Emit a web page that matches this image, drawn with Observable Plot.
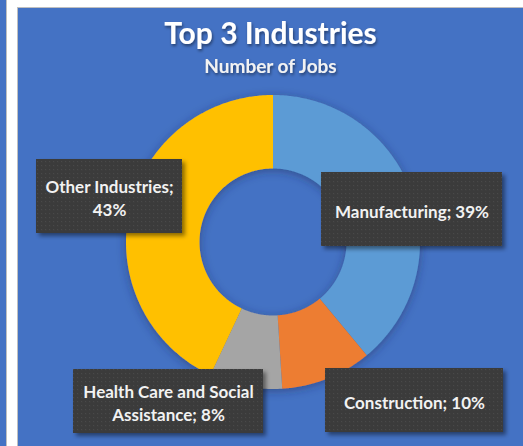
<!DOCTYPE html>
<html><head><meta charset="utf-8">
<script src="https://cdn.jsdelivr.net/npm/d3@7"></script>
<script src="https://cdn.jsdelivr.net/npm/@observablehq/plot@0.6"></script>
<style>
html,body{margin:0;padding:0;background:#fff;}
#wrap{position:relative;width:523px;height:446px;overflow:hidden;background:#fff;font-family:Lato,"Open Sans",sans-serif;}
#strip{position:absolute;left:0;top:0;width:6px;height:446px;background:#4472c4;border-right:1px solid #bfbfbf;}
#panel{position:absolute;left:17px;top:7px;width:520px;height:450px;background:#4472c4;border-left:1px solid #bfbfbf;border-top:1px solid #bfbfbf;}
#chart{position:absolute;left:0;top:0;}
</style></head>
<body><div id="wrap"><div id="strip"></div><div id="panel"></div><div id="chart"></div></div>
<script>
// ---- data ----
const categories = ["Manufacturing", "Construction", "Health Care and Social Assistance", "Other Industries"];
const shares = [39, 10, 8, 43];
const sliceColors = ["#5b9bd5", "#ed7d31", "#a5a5a5", "#ffc000"];
const labelTexts = ["Manufacturing; 39%", "Construction; 10%", "Health Care and Social\nAssistance; 8%", "Other Industries;\n43%"];
const titleText = "Top 3 Industries";
const subtitleText = "Number of Jobs";

// ---- layout (pixels) ----
const W = 523, H = 446;
const cx = 273, cy = 242, R = 147, r = 73.5;
const boxes = [
  {x1: 321, x2: 502, y1: 172, y2: 246},
  {x1: 325, x2: 503, y1: 368, y2: 432},
  {x1: 73,  x2: 263, y1: 369, y2: 433},
  {x1: 36,  x2: 182, y1: 159, y2: 233}
];

const pie = d3.pie().sort(null).value(d => d)(shares);
const pts = [];
pie.forEach((p, i) => {
  const n = Math.max(2, Math.ceil((p.endAngle - p.startAngle) / 0.01));
  for (let k = 0; k <= n; k++) {
    const a = p.startAngle + (p.endAngle - p.startAngle) * k / n;
    pts.push({
      name: categories[i],
      xo: cx + R * Math.sin(a), yo: cy - R * Math.cos(a),
      xi: cx + r * Math.sin(a), yi: cy - r * Math.cos(a)
    });
  }
});
const labels = categories.map((c, i) => ({
  name: c, text: labelTexts[i], ...boxes[i],
  tx: (boxes[i].x1 + boxes[i].x2) / 2, ty: (boxes[i].y1 + boxes[i].y2) / 2 + 1
}));

const svg = Plot.plot({
  width: W, height: H, margin: 0,
  style: {background: "transparent", overflow: "visible"},
  x: {domain: [0, W], range: [0, W], axis: null},
  y: {domain: [0, H], range: [0, H], axis: null},
  color: {domain: categories, range: sliceColors},
  marks: [
    Plot.area(pts, {x1: "xi", y1: "yi", x2: "xo", y2: "yo", z: "name", fill: "name"}),
    Plot.rect(labels, {x1: "x1", x2: "x2", y1: "y1", y2: "y2", fill: "#3d3d3d"}),
    Plot.text(labels, {x: "tx", y: "ty", text: "text", fill: "#f2f2f2", fontWeight: "bold", fontSize: 17, lineHeight: 1.35, fontFamily: "Lato, sans-serif"}),
    Plot.text([titleText], {x: 270, y: 34, text: d => d, fill: "#fff", fontWeight: "bold", fontSize: 30, fontFamily: "Lato, sans-serif"}),
    Plot.text([subtitleText], {x: 270, y: 66, text: d => d, fill: "#f2f2f2", fontWeight: "bold", fontSize: 19, fontFamily: "Lato, sans-serif"})
  ]
});

const s = d3.select(svg);
const defs = s.insert("defs", ":first-child");
defs.append("filter").attr("id", "dshadow").attr("x", "-20%").attr("y", "-20%").attr("width", "140%").attr("height", "140%")
  .append("feDropShadow").attr("dx", 0).attr("dy", 2).attr("stdDeviation", 5).attr("flood-color", "#1a2a55").attr("flood-opacity", 0.5);
defs.append("filter").attr("id", "bshadow").attr("x", "-10%").attr("y", "-10%").attr("width", "130%").attr("height", "140%")
  .append("feDropShadow").attr("dx", 3).attr("dy", 3).attr("stdDeviation", 2).attr("flood-color", "#000").attr("flood-opacity", 0.45);
defs.append("filter").attr("id", "tshadow").attr("x", "-10%").attr("y", "-30%").attr("width", "130%").attr("height", "160%")
  .append("feDropShadow").attr("dx", 1).attr("dy", 2).attr("stdDeviation", 1.5).attr("flood-color", "#000").attr("flood-opacity", 0.45);
const pat = defs.append("pattern").attr("id", "dots").attr("width", 4).attr("height", 4).attr("patternUnits", "userSpaceOnUse");
pat.append("rect").attr("width", 4).attr("height", 4).attr("fill", "#3b3b3b");
pat.append("rect").attr("x", 1).attr("y", 1).attr("width", 1.2).attr("height", 1.2).attr("fill", "#4a4a4a");

s.selectAll('g[aria-label="area"]').attr("filter", "url(#dshadow)");
s.selectAll('g[aria-label="rect"]').attr("filter", "url(#bshadow)").attr("fill", "url(#dots)");
const texts = s.selectAll('g[aria-label="text"]').nodes();
texts.slice(1).forEach(n => d3.select(n).attr("filter", "url(#tshadow)"));

document.getElementById("chart").appendChild(svg);
</script>
</body></html>
